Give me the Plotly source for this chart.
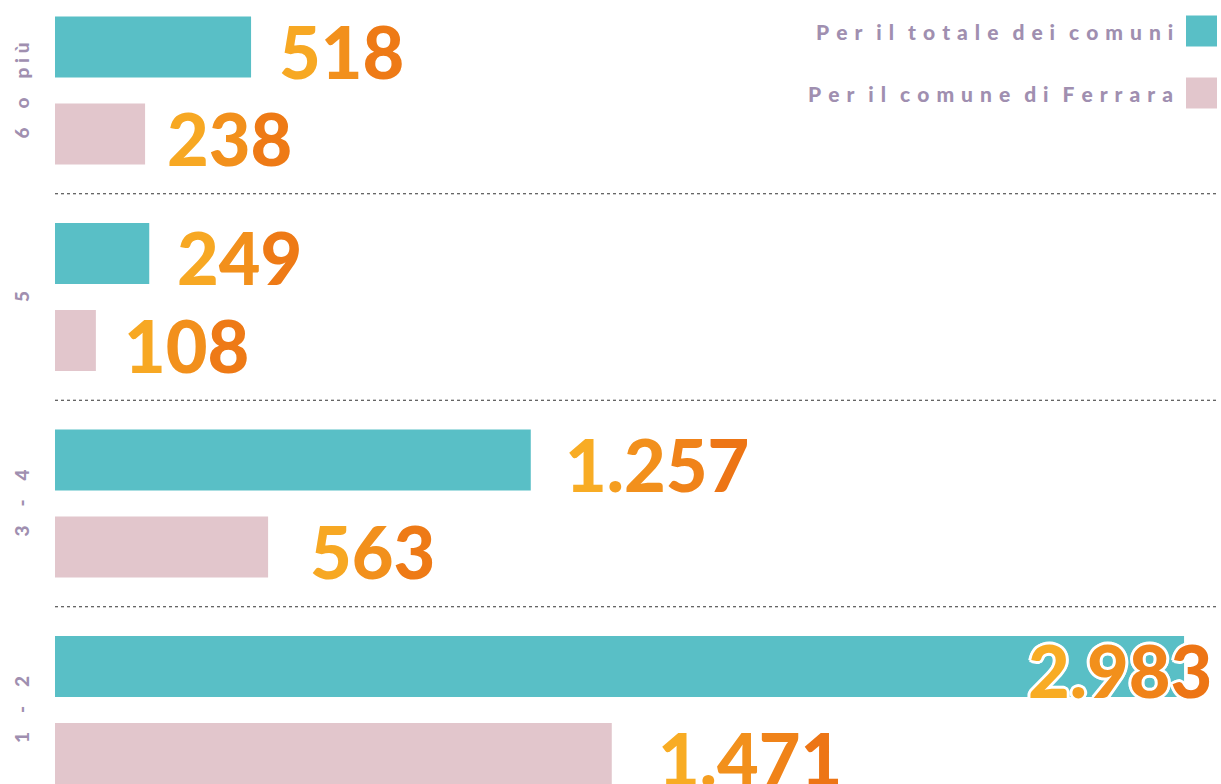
import plotly.graph_objects as go

categories = ["6 o più", "5", "3 - 4", "1 - 2"]
totale_comuni = [518, 249, 1257, 2983]
comune_ferrara = [238, 108, 563, 1471]
labels_totale = ["518", "249", "1.257", "2.983"]
labels_ferrara = ["238", "108", "563", "1.471"]
series_names = ["Per il totale dei comuni", "Per il comune di Ferrara"]

TEAL = "#59BFC6"
PINK = "#E2C6CC"
PURPLE = "#A08FB0"
GRAD_A = (249, 179, 38)
GRAD_B = (236, 110, 19)

W, H = 1221, 784
ML, MR = 55, 4
PW = W - ML - MR
pos = list(range(len(categories)))

def spaced(s, sep="\u2005", wsep="\u2002\u2006"):
    return wsep.join(sep.join(list(w)) for w in s.split(" "))

def grad_text(s):
    n = len(s)
    out = []
    for i, ch in enumerate(s):
        t = (i + 0.5) / n
        c = tuple(int(round(GRAD_A[k] + (GRAD_B[k] - GRAD_A[k]) * t)) for k in range(3))
        out.append('<span style="color:rgb(%d,%d,%d)">%s</span>' % (c + (ch,)))
    return "".join(out)

fig = go.Figure()
bw = 0.295
fig.add_trace(go.Bar(y=pos, x=totale_comuni, orientation="h", width=bw, offset=-0.211 - bw / 2,
                     marker=dict(color=TEAL, line=dict(width=0)), name=series_names[0], hoverinfo="x"))
fig.add_trace(go.Bar(y=pos, x=comune_ferrara, orientation="h", width=bw, offset=0.211 - bw / 2,
                     marker=dict(color=PINK, line=dict(width=0)), name=series_names[1], hoverinfo="x"))

annotations = []
num_font = dict(family="Lato, 'DejaVu Sans', sans-serif", size=72, weight=900)
gaps_t = [26, 26, 32, -158]
gaps_f = [20, 26, 40, 44]
for i in pos:
    f = dict(num_font)
    if i == 3:
        f["shadow"] = ("#fff 3px 0px 0px, #fff -3px 0px 0px, #fff 0px 3px 0px, #fff 0px -3px 0px, "
                       "#fff 2px 2px 0px, #fff -2px 2px 0px, #fff 2px -2px 0px, #fff -2px -2px 0px")
    annotations.append(dict(x=totale_comuni[i], y=i - 0.211, xref="x", yref="y",
                            text=grad_text(labels_totale[i]), showarrow=False,
                            xanchor="left", yanchor="middle", xshift=gaps_t[i], yshift=-4, font=f))
    annotations.append(dict(x=comune_ferrara[i], y=i + 0.211, xref="x", yref="y",
                            text=grad_text(labels_ferrara[i]), showarrow=False,
                            xanchor="left", yanchor="middle", xshift=gaps_f[i], yshift=-4, font=num_font))
    annotations.append(dict(x=(21 - ML) / PW, y=i, xref="paper", yref="y",
                            text=spaced(categories[i], wsep="\u2005\u2002\u2005"), showarrow=False,
                            textangle=-90, xanchor="center", yanchor="middle",
                            font=dict(family="Lato, sans-serif", size=19, weight=900, color=PURPLE)))

shapes = []
for k in range(len(categories) - 1):
    shapes.append(dict(type="line", xref="paper", yref="y", x0=0, x1=1, y0=k + 0.5, y1=k + 0.5,
                       line=dict(color="#333333", width=1, dash="dot")))

# legend (custom: text left, swatch right)
leg_y = [31, 93]
leg_col = [TEAL, PINK]
for j in range(2):
    annotations.append(dict(x=(1175 - ML) / PW, y=1 - leg_y[j] / H, xref="paper", yref="paper",
                            text=spaced(series_names[j], sep="\u2004"), showarrow=False,
                            xanchor="right", yanchor="middle",
                            font=dict(family="Lato, sans-serif", size=21, weight=900, color=PURPLE)))
    shapes.append(dict(type="rect", xref="paper", yref="paper",
                       x0=(1186 - ML) / PW, x1=(1217 - ML) / PW,
                       y0=1 - (leg_y[j] + 15.5) / H, y1=1 - (leg_y[j] - 15.5) / H,
                       fillcolor=leg_col[j], line=dict(width=0)))

pitch = 206.5
ymin = -90.5 / pitch
ymax = ymin + H / pitch
fig.update_layout(
    width=W, height=H, margin=dict(l=ML, r=MR, t=0, b=0),
    paper_bgcolor="white", plot_bgcolor="white", showlegend=False,
    xaxis=dict(range=[0, PW / 0.3785], visible=False, fixedrange=True),
    yaxis=dict(range=[ymax, ymin], visible=False, fixedrange=True),
    annotations=annotations, shapes=shapes, barmode="overlay",
)
fig.write_html("out.html", config={"displayModeBar": False},
               post_script="document.body.style.margin='0';document.body.style.overflow='hidden';")
